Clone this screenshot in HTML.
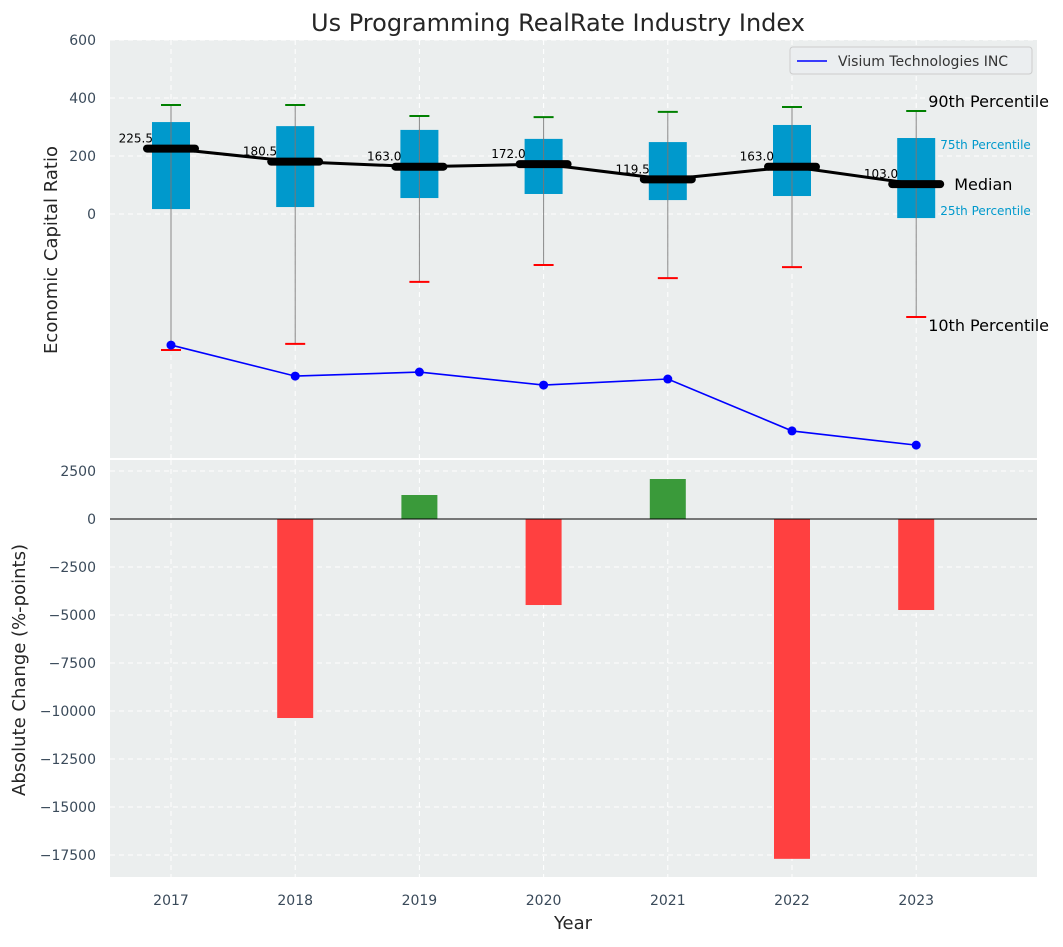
<!DOCTYPE html>
<html><head><meta charset="utf-8"><style>
body{margin:0;background:#fff;font-family:"Liberation Sans","DejaVu Sans",sans-serif}
svg text{font-family:"DejaVu Sans","Liberation Sans",sans-serif}
</style></head><body>
<svg id="c" width="1063" height="942" xmlns="http://www.w3.org/2000/svg">
<text x="558" y="31" font-size="24" text-anchor="middle" fill="#262626">Us Programming RealRate Industry Index</text>
<text x="573" y="929" font-size="18" text-anchor="middle" fill="#262626">Year</text>
<text transform="translate(57,250) rotate(-90)" font-size="18" text-anchor="middle" fill="#262626">Economic Capital Ratio</text>
<text transform="translate(25,670) rotate(-90)" font-size="18" text-anchor="middle" fill="#262626">Absolute Change (%-points)</text>
</svg>
<script>
const years=[2017,2018,2019,2020,2021,2022,2023];
const p90=[376,376,338,334,352,369,355];
const p75=[317,303,290,259,248,307,262];
const medians=[225.5,180.5,163.0,172.0,119.5,163.0,103.0];
const p25=[17,24,55,69,48,62,-14];
const p10=[-469,-448,-234,-176,-221,-183,-355];
const company=[-452,-559,-545,-590,-569,-748,-797];
const changes=[0,-10365,1250,-4480,2083,-17700,-4740];
const topTicks=[0,200,400,600];
const botTicks=[2500,0,-2500,-5000,-7500,-10000,-12500,-15000,-17500];
const svg=document.getElementById('c');const NS='http://www.w3.org/2000/svg';
function mk(t,a,p){const e=document.createElementNS(NS,t);for(const k in a)e.setAttribute(k,a[k]);(p||svg).appendChild(e);return e;}
const L=110,R=1037;
const x=v=>171+(v-2017)*124.2;
const yT=v=>214-v*0.29;
const yB=v=>519-v*0.0192;
const fmt=v=>v<0?'\u2212'+(-v):String(v);
let bg=mk('rect',{x:L,y:40,width:R-L,height:418,fill:'#ebeeee'});


bg=mk('rect',{x:L,y:460,width:R-L,height:417,fill:'#ebeeee'});


years.forEach(yr=>{
 mk('line',{x1:x(yr),x2:x(yr),y1:40,y2:458,stroke:'#fff','stroke-dasharray':'5,4','stroke-width':1});
 mk('line',{x1:x(yr),x2:x(yr),y1:460,y2:877,stroke:'#fff','stroke-dasharray':'5,4','stroke-width':1});
 const t=mk('text',{x:x(yr),y:905,'font-size':14,'text-anchor':'middle',fill:'#3a4a5a'});t.textContent=yr;
 
 
});
topTicks.forEach(v=>{
 mk('line',{x1:L,x2:R,y1:yT(v),y2:yT(v),stroke:'#fff','stroke-dasharray':'5,4'});
 const t=mk('text',{x:96,y:yT(v)+5,'font-size':14,'text-anchor':'end',fill:'#3a4a5a'});t.textContent=fmt(v);
 
 
});
botTicks.forEach(v=>{
 mk('line',{x1:L,x2:R,y1:yB(v),y2:yB(v),stroke:'#fff','stroke-dasharray':'5,4'});
 const t=mk('text',{x:96,y:yB(v)+5,'font-size':14,'text-anchor':'end',fill:'#3a4a5a'});t.textContent=fmt(v);
 
 
});
years.forEach((yr,i)=>{
 const cx=x(yr);
 const w=mk('line',{x1:cx,x2:cx,y1:yT(p90[i]),y2:yT(p10[i]),stroke:'#888','stroke-width':1});
 
 
 const b=mk('rect',{x:cx-19,y:yT(p75[i]),width:38,height:yT(p25[i])-yT(p75[i]),fill:'#0099cc'});
 
 
 mk('line',{x1:cx,x2:cx,y1:yT(p75[i]),y2:yT(p25[i]),stroke:'#777','stroke-width':1});
 mk('line',{x1:cx-10,x2:cx+10,y1:yT(p90[i]),y2:yT(p90[i]),stroke:'green','stroke-width':2});
 mk('line',{x1:cx-10,x2:cx+10,y1:yT(p10[i]),y2:yT(p10[i]),stroke:'red','stroke-width':2});
});
let pts=years.map((yr,i)=>x(yr)+','+yT(medians[i])).join(' ');
let ml=mk('polyline',{points:pts,fill:'none',stroke:'#000','stroke-width':3});


years.forEach((yr,i)=>{
 const cx=x(yr),cy=yT(medians[i]);
 const m=mk('line',{x1:cx-24,x2:cx+24,y1:cy,y2:cy,stroke:'#000','stroke-width':8,'stroke-linecap':'round'});
 
 
 const t=mk('text',{x:cx-18,y:cy-6,'font-size':12,'text-anchor':'end',fill:'#000'});t.textContent=medians[i].toFixed(1);
 
 
});
pts=years.map((yr,i)=>x(yr)+','+yT(company[i])).join(' ');
ml=mk('polyline',{points:pts,fill:'none',stroke:'blue','stroke-width':1.6});


years.forEach((yr,i)=>{
 const c=mk('circle',{cx:x(yr),cy:yT(company[i]),r:4.5,fill:'blue'});
 
 
});
const ax=x(2023);
[['90th Percentile',yT(p90[6])-4,16,'#000',ax+12],['75th Percentile',yT(p75[6])+11,12,'#0099cc',ax+24],['Median',yT(medians[6])+6,16,'#000',ax+38],['25th Percentile',yT(p25[6])-3,12,'#0099cc',ax+24],['10th Percentile',yT(p10[6])+14,16,'#000',ax+12]].forEach(a=>{
 const t=mk('text',{x:a[4],y:a[1],'font-size':a[2],fill:a[3]});t.textContent=a[0];
 
 
});
const lg=mk('g',{});


mk('rect',{x:790,y:47,width:242,height:27,rx:3,fill:'#ebeef0',stroke:'#ccc'},lg);
mk('line',{x1:797,x2:827,y1:61,y2:61,stroke:'blue','stroke-width':1.6},lg);
const lt=mk('text',{x:838,y:66,'font-size':14,fill:'#333'},lg);lt.textContent='Visium Technologies INC';
years.forEach((yr,i)=>{
 const v=changes[i];if(!v)return;
 const y0=yB(Math.max(v,0)),y1=yB(Math.min(v,0));
 const b=mk('rect',{x:x(yr)-18,y:y0,width:36,height:y1-y0,fill:v>0?'#3a9a3a':'#ff4040'});
 
 
});
mk('line',{x1:L,x2:R,y1:yB(0),y2:yB(0),stroke:'#000','stroke-width':1});
</script>
</body></html>
